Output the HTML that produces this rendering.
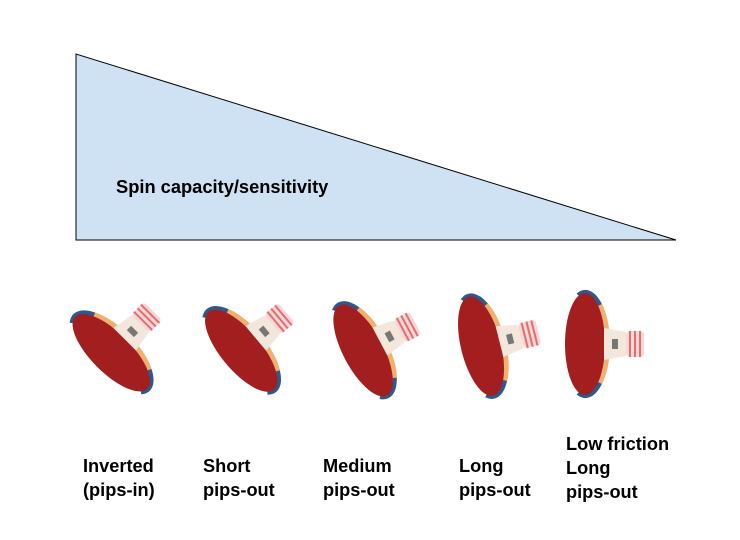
<!DOCTYPE html>
<html><head><style>
body{margin:0;background:#fff;}
.l{position:absolute;font:bold 18.2px "Liberation Sans",sans-serif;line-height:24px;color:#000;}
</style></head><body>
<div style="position:relative;width:740px;height:540px;overflow:hidden">
<svg width="740" height="540" style="position:absolute;left:0;top:0">
<defs>
<g id="pad">
<ellipse cx="2" cy="0" rx="22" ry="52" fill="#f0b070"/>
<path d="M -8 -49 A 22 52 0 0 1 14 -39" stroke="#2a5a90" stroke-width="4" fill="none"/>
<path d="M 14 39 A 22 52 0 0 1 -8 49" stroke="#2a5a90" stroke-width="4" fill="none"/>
<ellipse cx="-1" cy="0" rx="20" ry="51" fill="#a31e1e"/>
<path d="M 18 -16 L 40 -12 L 40 12 L 18 16 Z" fill="#f3e6da"/>
<rect x="40" y="-13" width="18" height="26" rx="4" fill="#f7d6d6"/>
<line x1="44" y1="-13" x2="44" y2="13" stroke="#e07070" stroke-width="2"/>
<line x1="49" y1="-13" x2="49" y2="13" stroke="#e07070" stroke-width="2"/>
<line x1="54" y1="-13" x2="54" y2="13" stroke="#e07070" stroke-width="2"/>
<rect x="26" y="-5" width="6" height="10" fill="#777"/>
</g>
</defs>
<polygon points="76,54 76,240 676,240" fill="#cfe2f3" stroke="#000" stroke-width="1"/>
<text x="116" y="193" font-family="Liberation Sans" font-weight="bold" font-size="18.3">Spin capacity/sensitivity</text>
<use href="#pad" transform="translate(112,352) rotate(-45)"/>
<use href="#pad" transform="translate(242,350) rotate(-40)"/>
<use href="#pad" transform="translate(364,350) rotate(-28)"/>
<use href="#pad" transform="translate(482,346) rotate(-14)"/>
<use href="#pad" transform="translate(586,344) rotate(0)"/>
</svg>
<div class="l" style="left:83px;top:454px">Inverted<br>(pips-in)</div>
<div class="l" style="left:203px;top:454px">Short<br>pips-out</div>
<div class="l" style="left:323px;top:454px">Medium<br>pips-out</div>
<div class="l" style="left:459px;top:454px">Long<br>pips-out</div>
<div class="l" style="left:566px;top:432px">Low friction<br>Long<br>pips-out</div>
</div>
</body></html>
